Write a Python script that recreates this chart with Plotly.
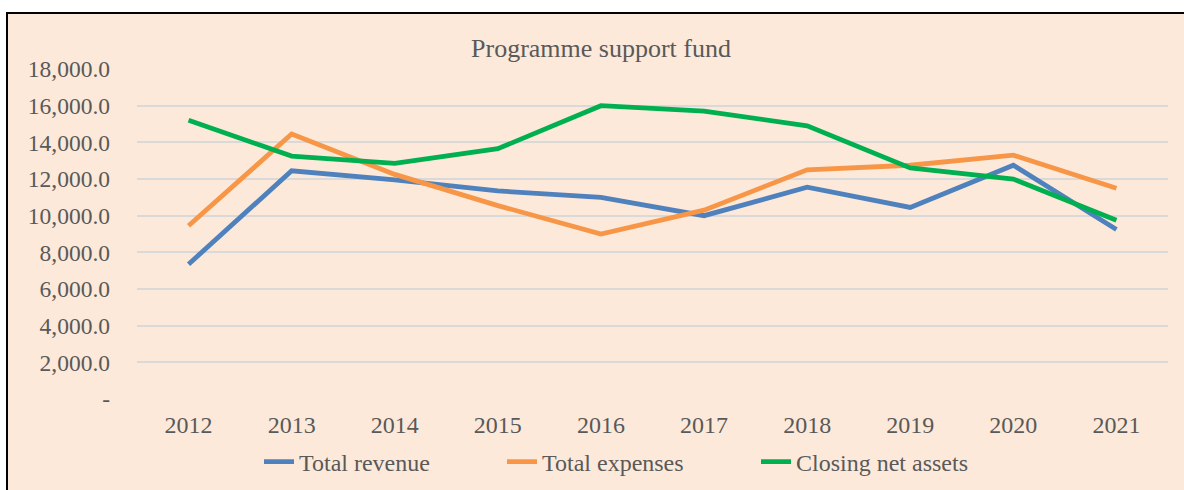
import plotly.graph_objects as go

years = ["2012", "2013", "2014", "2015", "2016", "2017", "2018", "2019", "2020", "2021"]
total_revenue = [7350, 12450, 11950, 11350, 11000, 10000, 11550, 10450, 12750, 9250]
total_expenses = [9450, 14450, 12250, 10550, 9000, 10300, 12500, 12750, 13300, 11500]
closing_net_assets = [15200, 13250, 12850, 13650, 16000, 15700, 14900, 12600, 12000, 9750]

ytick_vals = [0, 2000, 4000, 6000, 8000, 10000, 12000, 14000, 16000, 18000]
ytick_text = ["-", "2,000.0", "4,000.0", "6,000.0", "8,000.0", "10,000.0",
              "12,000.0", "14,000.0", "16,000.0", "18,000.0"]

W, H = 1184, 490
L, R, T, B = 137, 16, 69, 91
pw, ph = W - L - R, H - T - B

def px_x(x):
    return (x - L) / pw

def px_y(y):
    return (H - B - y) / ph

bg = "#FCE9DA"
font = "Liberation Serif, Times New Roman, serif"
grey = "#595959"

fig = go.Figure()
series = [
    ("Total revenue", total_revenue, "#4F81BD", "legend", 300),
    ("Total expenses", total_expenses, "#F79646", "legend2", 543),
    ("Closing net assets", closing_net_assets, "#00B050", "legend3", 797),
]
legend_cfg = {}
for name, vals, col, lg, tx in series:
    fig.add_trace(go.Scatter(x=years, y=vals, name=name, mode="lines",
                             line=dict(color=col, width=4.8), legend=lg))
    legend_cfg[lg] = dict(x=px_x(tx - 41), xanchor="left",
                          y=px_y(462), yanchor="middle",
                          bgcolor="rgba(0,0,0,0)", borderwidth=0,
                          font=dict(family=font, size=24, color=grey))

fig.update_layout(
    width=W, height=H,
    margin=dict(l=L, r=R, t=T, b=B, autoexpand=False),
    paper_bgcolor=bg, plot_bgcolor=bg,
    font=dict(family=font, size=24, color=grey),
    title=dict(text="Programme support fund", xref="paper", x=px_x(601),
               xanchor="center", y=1 - 48 / H, yanchor="middle",
               font=dict(family=font, size=26, color=grey)),
    xaxis=dict(type="category", range=[-0.5, 9.5], showgrid=False,
               showline=False, zeroline=False,
               ticks="", ticklabelstandoff=9,
               tickfont=dict(family=font, size=24, color=grey)),
    yaxis=dict(range=[0, 18000], tickvals=ytick_vals, ticktext=ytick_text,
               showgrid=True, gridcolor="#D9D9D9", gridwidth=2,
               zeroline=False, showline=False, ticks="", ticklabelstandoff=26,
               tickfont=dict(family=font, size=23.5, color=grey)),
    showlegend=True,
    shapes=[
        # white page area outside the chart frame
        dict(type="rect", xref="paper", yref="paper", layer="below",
             x0=px_x(-5), x1=px_x(W + 5), y0=px_y(12), y1=px_y(-5),
             fillcolor="white", line=dict(width=0)),
        dict(type="rect", xref="paper", yref="paper", layer="below",
             x0=px_x(-5), x1=px_x(6), y0=px_y(H + 5), y1=px_y(-5),
             fillcolor="white", line=dict(width=0)),
        # black frame
        dict(type="line", xref="paper", yref="paper",
             x0=px_x(6), x1=px_x(W + 5), y0=px_y(13), y1=px_y(13),
             line=dict(color="black", width=2)),
        dict(type="line", xref="paper", yref="paper",
             x0=px_x(7), x1=px_x(7), y0=px_y(12), y1=px_y(H + 5),
             line=dict(color="black", width=2)),
    ],
    **legend_cfg,
)

fig.write_html("out.html", config={"displayModeBar": False},
               post_script="document.body.style.margin='0';")
